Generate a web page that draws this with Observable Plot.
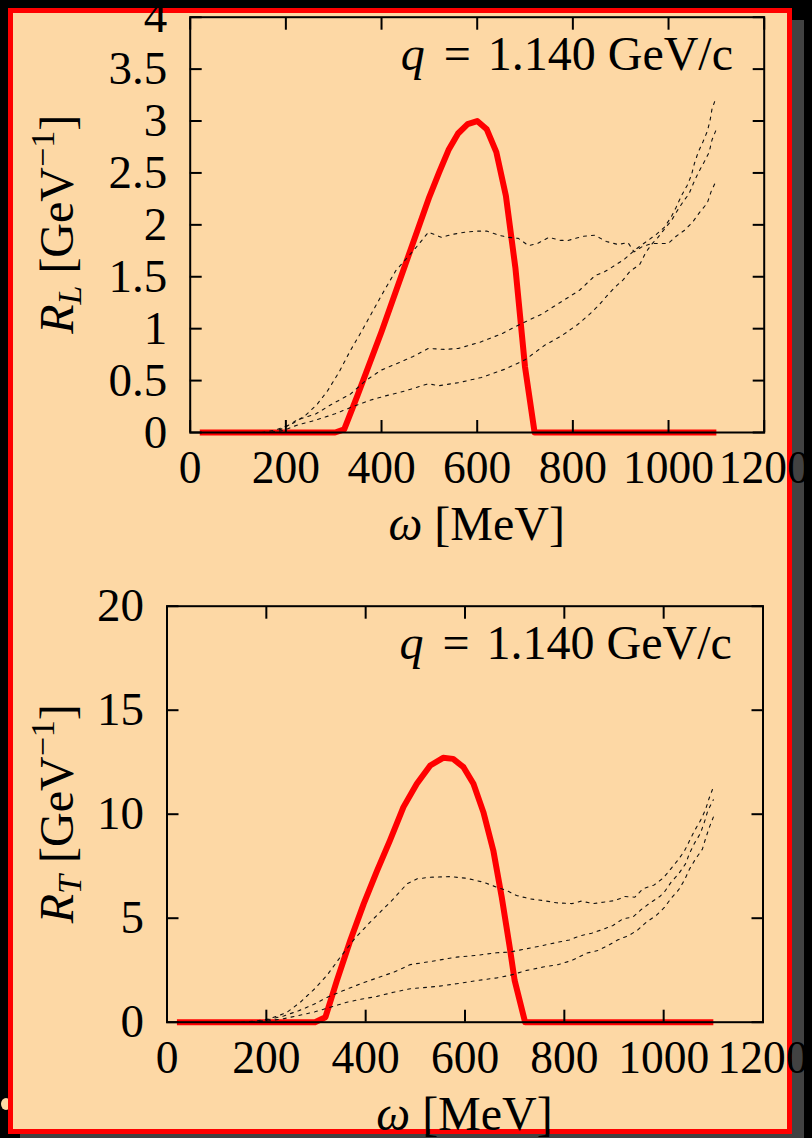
<!DOCTYPE html>
<html>
<head>
<meta charset="utf-8">
<script src="https://cdn.jsdelivr.net/npm/d3@7"></script>
<script src="https://cdn.jsdelivr.net/npm/@observablehq/plot@0.6"></script>
<style>
  html, body { margin: 0; padding: 0; background: #000; }
  #page { position: relative; width: 812px; height: 1138px; overflow: hidden; background: #000; }
  #shadowR { position: absolute; left: 792px; top: 20px; width: 12px; height: 1118px; background: #424242; }
  #shadowB { position: absolute; left: 20px; top: 1134px; width: 784px; height: 4px; background: #424242; }
  #dot { position: absolute; left: 1px; top: 1098px; width: 10px; height: 12px; border-radius: 50%; background: #fdd8a5; }
  #sheet { position: absolute; left: 8px; top: 8px; width: 774px; height: 1116px; border: 5px solid #ff0000; background: #fdd8a5; }
  #clip { position: absolute; left: 0; top: 0; width: 804px; height: 1138px; overflow: hidden; }
  #p1 { position: absolute; left: 0; top: 0; }
  #p2 { position: absolute; left: 0; top: 560px; }
  svg { overflow: visible; }
</style>
</head>
<body>
<div id="page">
  <div id="shadowR"></div>
  <div id="shadowB"></div>
  <div id="dot"></div>
  <div id="sheet"></div>
  <div id="clip">
    <div id="p1"></div>
    <div id="p2"></div>
  </div>
</div>
<script>
// ---------- data ----------
const xTicks = [0, 200, 400, 600, 800, 1000, 1200];
const yTicksL = [0, 0.5, 1, 1.5, 2, 2.5, 3, 3.5, 4];
const yTicksT = [0, 5, 10, 15, 20];
const qValue = "1.140 GeV/c";

// R_L panel: [omega (MeV), R_L (GeV^-1)]
const rlRed = [[20,0],[303,0],[322,0.03],[350,0.36],[400,0.97],[450,1.62],[500,2.27],[520,2.50],[540,2.72],[560,2.88],[580,2.97],[600,3.0],[620,2.92],[640,2.70],[660,2.28],[680,1.58],[700,0.63],[720,0],[1100,0]];
const rlA = [[150,0],[175,0.02],[195,0.05],[215,0.09],[240,0.16],[265,0.27],[287,0.40],[311,0.58],[335,0.79],[359,0.98],[383,1.18],[406,1.37],[430,1.56],[455,1.69],[479,1.82],[498,1.93],[525,1.88],[550,1.91],[575,1.93],[600,1.94],[620,1.94],[645,1.90],[665,1.88],[686,1.87],[707,1.80],[726,1.82],[750,1.88],[775,1.85],[790,1.85],[822,1.89],[846,1.90],[870,1.84],[895,1.81],[915,1.83],[928,1.74],[945,1.79],[965,1.82],[999,1.82],[1016,1.89],[1034,1.95],[1051,2.03],[1065,2.12],[1081,2.21],[1089,2.32],[1100,2.43]];
const rlB = [[170,0],[195,0.04],[223,0.12],[263,0.18],[295,0.27],[335,0.37],[367,0.50],[399,0.60],[430,0.66],[465,0.73],[498,0.81],[533,0.80],[561,0.81],[606,0.87],[651,0.95],[693,1.05],[735,1.14],[776,1.26],[814,1.37],[846,1.51],[867,1.55],[888,1.61],[908,1.67],[933,1.77],[957,1.85],[975,1.91],[992,1.98],[1006,2.08],[1016,2.17],[1027,2.28],[1039,2.38],[1048,2.48],[1054,2.59],[1062,2.70],[1072,2.80],[1081,2.90],[1087,3.01],[1091,3.12],[1100,3.23]];
const rlC = [[170,0],[195,0.02],[223,0.07],[263,0.12],[303,0.18],[335,0.24],[375,0.31],[406,0.35],[449,0.40],[498,0.47],[519,0.45],[561,0.48],[609,0.53],[658,0.61],[700,0.70],[741,0.84],[776,0.93],[810,1.04],[835,1.14],[853,1.22],[870,1.31],[888,1.40],[905,1.47],[919,1.55],[940,1.62],[952,1.73],[964,1.81],[978,1.88],[995,1.98],[1006,2.04],[1016,2.12],[1030,2.22],[1043,2.30],[1052,2.40],[1062,2.50],[1075,2.61],[1085,2.70],[1091,2.82],[1100,2.92]];

// R_T panel
const rtRed = [[20,0],[298,0],[319,0.24],[342,2.0],[369,3.93],[396,5.69],[423,7.29],[449,8.74],[476,10.34],[503,11.46],[530,12.34],[556,12.71],[576,12.66],[597,12.26],[617,11.46],[637,10.1],[657,8.26],[674,6.01],[690,3.61],[700,2.0],[721,0],[1100,0]];
const rtA = [[150,0],[175,0.05],[205,0.15],[240,0.45],[268,0.95],[297,1.6],[322,2.25],[349,3.13],[379,4.05],[409,4.81],[456,5.93],[483,6.65],[503,6.89],[530,6.97],[570,7.0],[603,6.92],[637,6.73],[664,6.49],[684,6.33],[704,6.09],[731,5.93],[757,5.85],[784,5.74],[815,5.70],[834,5.82],[858,5.70],[878,5.77],[902,5.85],[922,6.04],[942,6.01],[958,6.41],[981,6.6],[999,6.93],[1014,7.36],[1029,7.8],[1042,8.24],[1052,8.72],[1062,9.2],[1074,9.69],[1084,10.2],[1091,10.73],[1100,11.3]];
const rtB = [[170,0],[200,0.1],[235,0.3],[265,0.55],[295,0.85],[323,1.2],[355,1.52],[389,1.84],[423,2.13],[456,2.40],[490,2.77],[520,2.88],[544,2.97],[583,3.13],[623,3.21],[664,3.34],[690,3.37],[724,3.53],[757,3.69],[788,3.85],[810,3.95],[831,4.15],[855,4.28],[875,4.44],[898,4.65],[918,4.97],[938,5.05],[955,5.42],[973,5.74],[992,6.04],[1002,6.28],[1015,6.73],[1030,7.13],[1044,7.61],[1052,8.12],[1062,8.6],[1074,9.08],[1082,9.62],[1089,10.18],[1100,10.69]];
const rtC = [[170,0],[200,0.05],[235,0.17],[265,0.32],[298,0.5],[329,0.72],[362,0.96],[396,1.13],[423,1.24],[456,1.44],[490,1.61],[544,1.72],[583,1.85],[623,2.0],[664,2.13],[690,2.25],[724,2.49],[757,2.65],[788,2.77],[815,2.97],[845,3.32],[868,3.45],[888,3.69],[908,3.96],[930,4.17],[948,4.44],[965,4.81],[985,5.13],[1002,5.53],[1015,5.96],[1030,6.36],[1042,6.84],[1052,7.36],[1064,7.84],[1078,8.32],[1084,8.8],[1092,9.37],[1100,9.86]];

// ---------- drawing ----------
const FONT = "'Liberation Serif', 'Times New Roman', serif";
const FS = 48;     // labels
const FSX = 45.5;  // x tick labels
const FSY = 47;    // y tick labels

function panel(opts) {
  const {red, curves, yDomain, yTicks, width, height, mL, mR, mT, mB, sub} = opts;
  const X = d => d[0], Y = d => d[1];
  const svg = Plot.plot({
    width, height,
    marginLeft: mL, marginRight: mR, marginTop: mT, marginBottom: mB,
    style: {background: "transparent", fontFamily: FONT, fontSize: FS + "px", color: "#000", overflow: "visible"},
    x: {domain: [0, 1200]},
    y: {domain: yDomain},
    marks: [
      Plot.line(red, {x: X, y: Y, stroke: "#ff0000", strokeWidth: 6, strokeLinejoin: "round", strokeLinecap: "butt"}),
      ...curves.map(c => Plot.line(c, {x: X, y: Y, stroke: "#111", strokeWidth: 1.1, strokeDasharray: "3,5"})),
      Plot.frame({stroke: "#000", strokeWidth: 2}),
      // inward tick marks on all four sides
      Plot.axisX(xTicks, {anchor: "bottom", tickSize: 12, dy: -12, fill: "none", label: null, stroke: "#000", strokeWidth: 2}),
      Plot.axisX(xTicks, {anchor: "top", tickSize: 12, dy: 12, fill: "none", label: null, stroke: "#000", strokeWidth: 2}),
      Plot.axisY(yTicks, {anchor: "left", tickSize: 12, dx: 12, fill: "none", label: null, stroke: "#000", strokeWidth: 2}),
      Plot.axisY(yTicks, {anchor: "right", tickSize: 12, dx: -12, fill: "none", label: null, stroke: "#000", strokeWidth: 2}),
      // tick labels
      Plot.axisX(xTicks, {anchor: "bottom", tickSize: 0, tickPadding: 18, label: null, fontSize: FSX, fill: "#000", tickFormat: d => String(d)}),
      Plot.axisY(yTicks, {anchor: "left", tickSize: 0, tickPadding: 23, label: null, fontSize: FSY, fill: "#000", tickFormat: d => String(d)})
    ]
  });
  const s = d3.select(svg);
  const fx0 = mL, fx1 = width - mR, fy0 = mT, fy1 = height - mB;

  // annotation q = 1.140 GeV/c
  const t = s.append("text")
    .attr("x", fx1 - 30.7).attr("y", fy0 + 53)
    .attr("text-anchor", "end")
    .attr("font-family", FONT).attr("font-size", FS).attr("fill", "#000");
  t.append("tspan").attr("font-style", "italic").text("q");
  t.append("tspan").attr("dx", 7).text(" = ");
  t.append("tspan").attr("dx", 5).text(qValue);

  // x label
  const xl = s.append("text")
    .attr("x", (fx0 + fx1) / 2).attr("y", fy1 + 108)
    .attr("text-anchor", "middle")
    .attr("font-family", FONT).attr("font-size", FS).attr("fill", "#000");
  xl.append("tspan").attr("font-style", "italic").text("ω");
  xl.append("tspan").text(" [MeV]");

  // y label (rotated)
  const yl = s.append("text")
    .attr("transform", `translate(73,${(fy0 + fy1) / 2}) rotate(-90)`)
    .attr("text-anchor", "middle")
    .attr("font-family", FONT).attr("font-size", FS).attr("fill", "#000");
  yl.append("tspan").attr("font-style", "italic").text("R");
  yl.append("tspan").attr("font-style", "italic").attr("font-size", 34).attr("dy", 8).text(sub);
  yl.append("tspan").attr("dy", -8).text(" [GeV");
  yl.append("tspan").attr("font-size", 34).attr("dy", -19).text("−1");
  yl.append("tspan").attr("dy", 19).text("]");
  return svg;
}

document.getElementById("p1").appendChild(panel({
  red: rlRed, curves: [rlA, rlB, rlC], yDomain: [0, 4], yTicks: yTicksL,
  width: 804, height: 560, mL: 189.7, mR: 40.3, mT: 16.7, mB: 128, sub: "L"
}));
document.getElementById("p2").appendChild(panel({
  red: rtRed, curves: [rtA, rtB, rtC], yDomain: [0, 20], yTicks: yTicksT,
  width: 804, height: 578, mL: 166.5, mR: 41.5, mT: 45.7, mB: 116.3, sub: "T"
}));
</script>
</body>
</html>
